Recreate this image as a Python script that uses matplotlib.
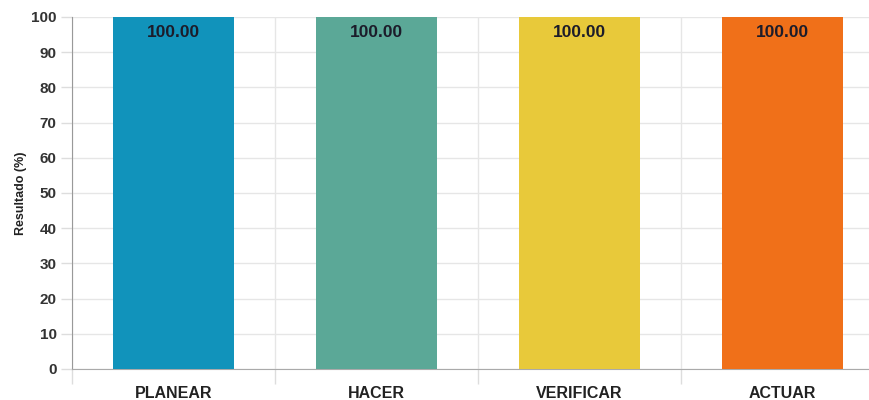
import matplotlib.pyplot as plt
import numpy as np

categories = ['PLANEAR', 'HACER', 'VERIFICAR', 'ACTUAR']
values = [100.0, 100.0, 100.0, 100.0]
colors = ['#1193BB', '#5BA897', '#E8C93A', '#F07019']

plt.rcParams['font.family'] = ['Liberation Sans', 'DejaVu Sans']

fig = plt.figure(figsize=(8.7, 4.0), dpi=100)
ax = fig.add_axes([72 / 870, 31 / 400, 812 / 870, 352 / 400])

x = np.arange(len(categories))
bars = ax.bar(x, values, width=0.6, color=colors, zorder=3)

for b, v in zip(bars, values):
    ax.text(b.get_x() + b.get_width() / 2, v - 4.3, f'{v:.2f}',
            ha='center', va='center', fontsize=12.5, fontweight='bold',
            color='#1c1c2a', zorder=4)

ax.set_xlim(-0.5, len(categories) - 0.5)
ax.set_ylim(0, 100)
ax.set_yticks(np.arange(0, 101, 10))
ax.set_xticks(x)
ax.set_xticklabels(categories, fontsize=11.5, fontweight='bold', color='#222222')
ax.set_xticks(np.arange(-0.5, len(categories), 1), minor=True)

for lbl in ax.get_yticklabels():
    lbl.set_fontsize(11)
    lbl.set_fontweight('bold')
    lbl.set_color('#333333')

ax.tick_params(axis='x', which='major', length=0, pad=12)
ax.tick_params(axis='x', which='minor', length=11, color='#dddddd', width=1)
ax.tick_params(axis='y', which='major', length=8, color='#dddddd', width=1, pad=3)

ax.grid(axis='y', which='major', color='#e6e6e6', linewidth=1, zorder=0)
ax.grid(axis='x', which='minor', color='#e6e6e6', linewidth=1, zorder=0)

for side in ['top', 'right']:
    ax.spines[side].set_visible(False)
ax.spines['left'].set_color('#999999')
ax.spines['bottom'].set_color('#aaaaaa')

ax.set_ylabel('Resultado (%)', fontsize=9, fontweight='bold', color='#222222', labelpad=3)

fig.savefig('out.png', dpi=100)
